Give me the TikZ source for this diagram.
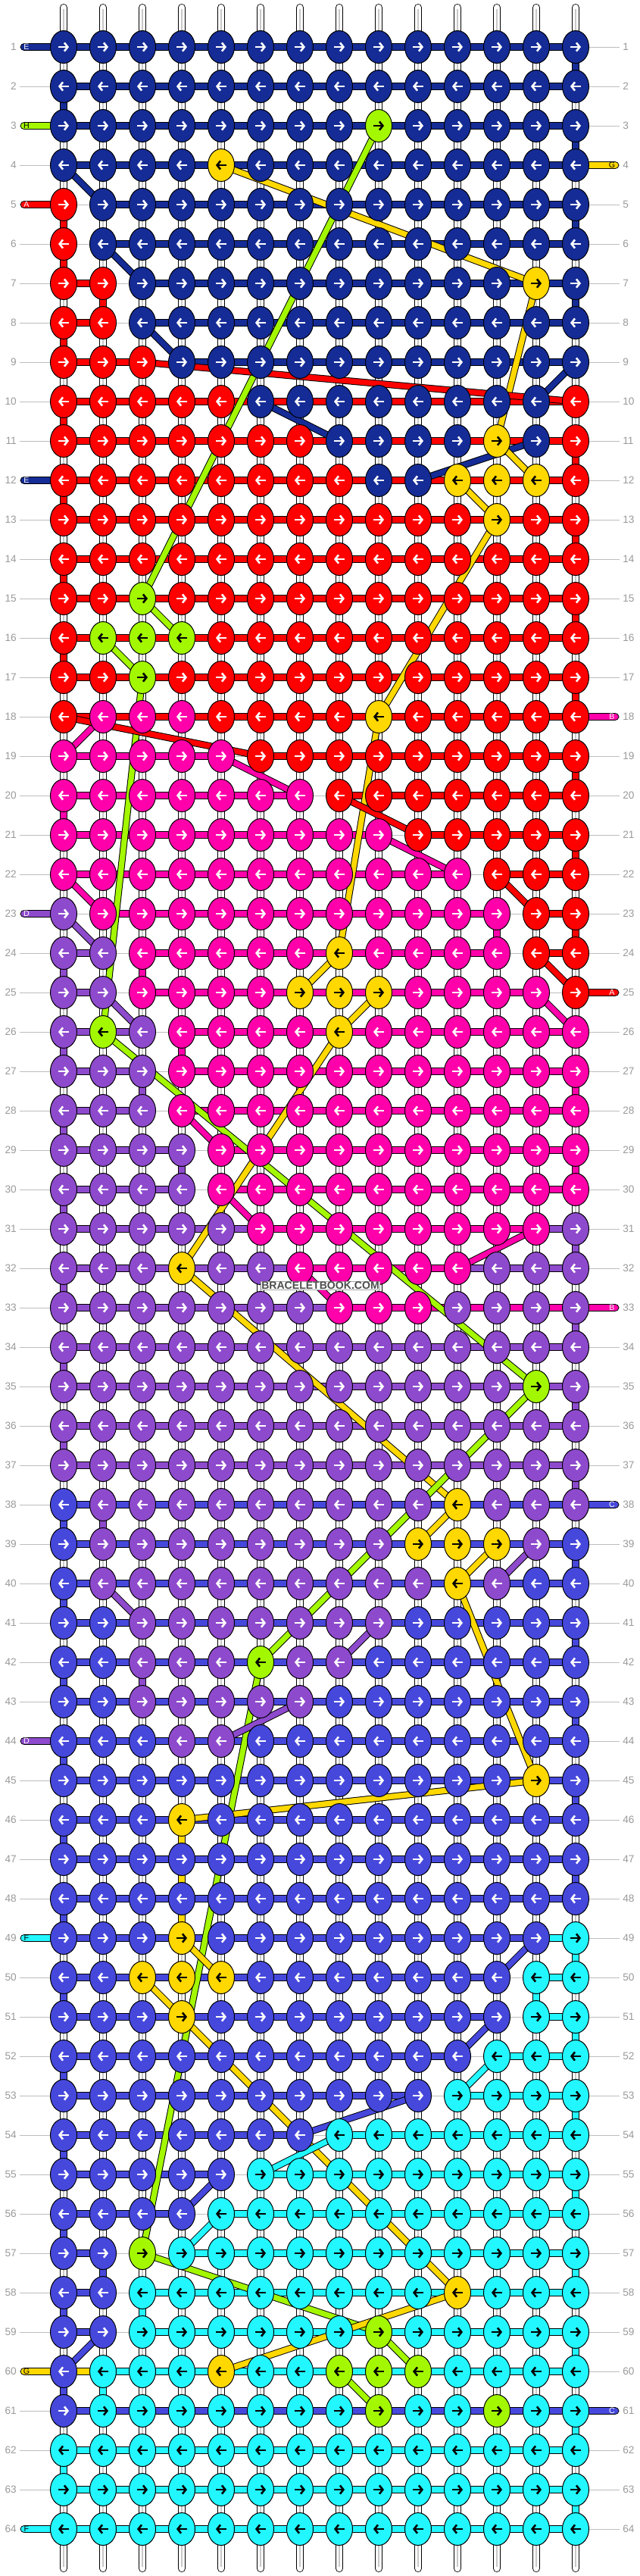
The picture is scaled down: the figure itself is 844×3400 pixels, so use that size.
\documentclass[tikz,border=0pt]{standalone}
\usepackage{fontspec}
\setsansfont{Liberation Sans}
\usetikzlibrary{shapes.geometric,arrows.meta}
\definecolor{cN}{HTML}{152C96}
\definecolor{cR}{HTML}{FF0000}
\definecolor{cY}{HTML}{FFD800}
\definecolor{cG}{HTML}{A3F700}
\definecolor{cP}{HTML}{FF00AA}
\definecolor{cV}{HTML}{8E4ACD}
\definecolor{cB}{HTML}{4648DC}
\definecolor{cC}{HTML}{22F7FF}
\colorlet{aN}{white}
\colorlet{aR}{white}
\colorlet{aP}{white}
\colorlet{aV}{white}
\colorlet{aB}{white}
\colorlet{aY}{black}
\colorlet{aG}{black}
\colorlet{aC}{black}
\definecolor{RowGray}{HTML}{BDBDBD}
\definecolor{NumGray}{HTML}{9A9A9A}
\definecolor{MidGray}{HTML}{C8C8C8}

\tikzset{
  string/.style={draw=black, line width=0.2mm, double=white, double distance=2.1mm, line cap=round},
  bar/.style={draw=black, line width=0.25mm, double=#1, double distance=2.2mm},
  linkbar/.style={draw=black, line width=0.25mm, double=#1, double distance=2mm},
  diagbar/.style={draw=black, line width=0.25mm, double=#1, double distance=1.8mm},
  knot/.style={ellipse, draw=black, line width=0.25mm, minimum width=8.75mm, minimum height=10.75mm, inner sep=0pt},
  knotarrow/.style={line width=0.65mm, -{Straight Barb[length=1.1mm,width=2.8mm]}},
  rownum/.style={font=\fontsize{9.7pt}{11pt}\selectfont\sffamily, text=NumGray, inner sep=0pt},
  stubtext/.style={font=\fontsize{7.6pt}{8pt}\selectfont\sffamily, inner sep=0pt}
}

% knot colours, one list per row
\def\knotdata{
1/{N,N,N,N,N,N,N,N,N,N,N,N,N,N},
2/{N,N,N,N,N,N,N,N,N,N,N,N,N,N},
3/{N,N,N,N,N,N,N,N,G,N,N,N,N,N},
4/{N,N,N,N,Y,N,N,N,N,N,N,N,N,N},
5/{R,N,N,N,N,N,N,N,N,N,N,N,N,N},
6/{R,N,N,N,N,N,N,N,N,N,N,N,N,N},
7/{R,R,N,N,N,N,N,N,N,N,N,N,Y,N},
8/{R,R,N,N,N,N,N,N,N,N,N,N,N,N},
9/{R,R,R,N,N,N,N,N,N,N,N,N,N,N},
10/{R,R,R,R,R,N,N,N,N,N,N,N,N,R},
11/{R,R,R,R,R,R,R,N,N,N,N,Y,N,R},
12/{R,R,R,R,R,R,R,R,N,N,Y,Y,Y,R},
13/{R,R,R,R,R,R,R,R,R,R,R,Y,R,R},
14/{R,R,R,R,R,R,R,R,R,R,R,R,R,R},
15/{R,R,G,R,R,R,R,R,R,R,R,R,R,R},
16/{R,G,G,G,R,R,R,R,R,R,R,R,R,R},
17/{R,R,G,R,R,R,R,R,R,R,R,R,R,R},
18/{R,P,P,P,R,R,R,R,Y,R,R,R,R,R},
19/{P,P,P,P,P,R,R,R,R,R,R,R,R,R},
20/{P,P,P,P,P,P,P,R,R,R,R,R,R,R},
21/{P,P,P,P,P,P,P,P,P,R,R,R,R,R},
22/{P,P,P,P,P,P,P,P,P,P,P,R,R,R},
23/{V,P,P,P,P,P,P,P,P,P,P,P,R,R},
24/{V,V,P,P,P,P,P,Y,P,P,P,P,R,R},
25/{V,V,P,P,P,P,Y,Y,Y,P,P,P,P,R},
26/{V,G,V,P,P,P,P,Y,P,P,P,P,P,P},
27/{V,V,V,P,P,P,P,P,P,P,P,P,P,P},
28/{V,V,V,P,P,P,P,P,P,P,P,P,P,P},
29/{V,V,V,V,P,P,P,P,P,P,P,P,P,P},
30/{V,V,V,V,P,P,P,P,P,P,P,P,P,P},
31/{V,V,V,V,V,P,P,P,P,P,P,P,P,V},
32/{V,V,V,Y,V,V,P,P,P,P,P,V,V,V},
33/{V,V,V,V,V,V,V,P,P,P,V,V,V,V},
34/{V,V,V,V,V,V,V,V,V,V,V,V,V,V},
35/{V,V,V,V,V,V,V,V,V,V,V,V,G,V},
36/{V,V,V,V,V,V,V,V,V,V,V,V,V,V},
37/{V,V,V,V,V,V,V,V,V,V,V,V,V,V},
38/{B,V,V,V,V,V,V,V,V,V,Y,V,V,V},
39/{B,V,V,V,V,V,V,V,V,Y,Y,Y,V,B},
40/{B,V,V,V,V,V,V,V,V,V,Y,V,B,B},
41/{B,B,V,V,V,V,V,V,V,B,B,B,B,B},
42/{B,B,V,V,V,G,V,V,B,B,B,B,B,B},
43/{B,B,V,V,V,V,V,B,B,B,B,B,B,B},
44/{B,B,B,V,V,B,B,B,B,B,B,B,B,B},
45/{B,B,B,B,B,B,B,B,B,B,B,B,Y,B},
46/{B,B,B,Y,B,B,B,B,B,B,B,B,B,B},
47/{B,B,B,B,B,B,B,B,B,B,B,B,B,B},
48/{B,B,B,B,B,B,B,B,B,B,B,B,B,B},
49/{B,B,B,Y,B,B,B,B,B,B,B,B,B,C},
50/{B,B,Y,Y,Y,B,B,B,B,B,B,B,C,C},
51/{B,B,B,Y,B,B,B,B,B,B,B,B,C,C},
52/{B,B,B,B,B,B,B,B,B,B,B,C,C,C},
53/{B,B,B,B,B,B,B,B,B,B,C,C,C,C},
54/{B,B,B,B,B,B,B,C,C,C,C,C,C,C},
55/{B,B,B,B,B,C,C,C,C,C,C,C,C,C},
56/{B,B,B,B,C,C,C,C,C,C,C,C,C,C},
57/{B,B,G,C,C,C,C,C,C,C,C,C,C,C},
58/{B,B,C,C,C,C,C,C,C,C,Y,C,C,C},
59/{B,B,C,C,C,C,C,C,G,C,C,C,C,C},
60/{B,C,C,C,Y,C,C,G,G,G,C,C,C,C},
61/{B,C,C,C,C,C,C,C,G,C,C,G,C,C},
62/{C,C,C,C,C,C,C,C,C,C,C,C,C,C},
63/{C,C,C,C,C,C,C,C,C,C,C,C,C,C},
64/{C,C,C,C,C,C,C,C,C,C,C,C,C,C}}

% rows whose running string has one colour
\def\segplain{1/N,2/N,3/N,4/N,10/R,11/R,12/R,13/R,14/R,15/R,16/R,17/R,18/R,
34/V,35/V,36/V,37/V,38/B,39/B,40/B,41/B,42/B,43/B,44/B,45/B,46/B,47/B,48/B,
61/B,62/C,63/C,64/C}

% rows with mixed running strings (0 = gap)
\def\segmixed{
5/{0,N,N,N,N,N,N,N,N,N,N,N,N},
6/{0,N,N,N,N,N,N,N,N,N,N,N,N},
7/{R,0,N,N,N,N,N,N,N,N,N,N,N},
8/{R,0,N,N,N,N,N,N,N,N,N,N,N},
9/{R,R,0,N,N,N,N,N,N,N,N,N,N},
19/{P,P,P,P,0,R,R,R,R,R,R,R,R},
20/{P,P,P,P,P,P,0,R,R,R,R,R,R},
21/{P,P,P,P,P,P,P,P,0,R,R,R,R},
22/{P,P,P,P,P,P,P,P,P,P,0,R,R},
23/{0,P,P,P,P,P,P,P,P,P,P,0,R},
24/{V,0,P,P,P,P,P,P,P,P,P,0,R},
25/{V,0,P,P,P,P,P,P,P,P,P,P,0},
26/{V,V,0,P,P,P,P,P,P,P,P,P,P},
27/{V,V,0,P,P,P,P,P,P,P,P,P,P},
28/{V,V,0,P,P,P,P,P,P,P,P,P,P},
29/{V,V,V,0,P,P,P,P,P,P,P,P,P},
30/{V,V,V,0,P,P,P,P,P,P,P,P,P},
31/{V,V,V,V,V,P,P,P,P,P,P,P,V},
32/{V,V,V,V,V,V,P,P,P,P,V,V,V},
33/{V,V,V,V,V,V,V,P,P,P,P,P,P},
49/{B,B,B,B,B,B,B,B,B,B,B,B,C},
50/{B,B,B,B,B,B,B,B,B,B,B,0,C},
51/{B,B,B,B,B,B,B,B,B,B,B,0,C},
52/{B,B,B,B,B,B,B,B,B,B,0,C,C},
53/{B,B,B,B,B,B,B,B,B,0,C,C,C},
54/{B,B,B,B,B,B,0,C,C,C,C,C,C},
55/{B,B,B,B,0,C,C,C,C,C,C,C,C},
56/{B,B,B,0,C,C,C,C,C,C,C,C,C},
57/{B,0,0,C,C,C,C,C,C,C,C,C,C},
58/{B,0,C,C,C,C,C,C,C,C,C,C,C},
59/{B,0,C,C,C,C,C,C,C,C,C,C,C},
60/{Y,C,C,C,C,C,C,C,C,C,C,C,C}}

% coloured turns between a row and the next: row/column/colour
\def\linkdata{1/14/N,2/1/N,3/14/N,5/1/R,5/14/N,6/1/R,7/2/R,7/14/N,8/1/R,
10/1/R,11/14/R,12/1/R,13/14/R,14/1/R,15/14/R,16/1/R,17/14/R,19/14/R,20/1/P,
21/14/R,23/12/P,23/14/R,24/1/V,24/3/P,26/1/V,26/4/P,27/3/V,27/14/P,28/1/V,
29/4/V,29/14/P,30/1/V,31/14/V,32/1/V,33/14/V,34/1/V,35/14/V,36/1/V,37/14/V,
38/1/B,38/2/V,39/14/B,40/1/B,41/14/B,42/1/B,42/3/V,43/14/B,44/1/B,45/14/B,
46/1/B,46/4/Y,47/4/Y,47/14/B,48/1/B,48/4/Y,49/14/C,50/1/B,50/13/C,51/14/C,
52/1/B,53/14/C,54/1/B,55/14/C,56/1/B,57/2/B,57/14/C,58/1/B,58/3/C,59/14/C,
60/1/B,60/2/C,61/14/C,62/1/C,63/14/C}

% strings carried across rows: colour/row/col/row/col
\def\diagdata{N/4/1/5/2,Y/4/5/7/13,G/3/9/15/3,N/6/2/7/3,N/8/3/9/4,
Y/7/13/11/12,R/9/3/10/14,N/9/14/10/13,N/10/6/11/8,N/11/13/12/10,
Y/11/12/12/13,Y/12/11/13/12,Y/13/12/18/9,G/15/3/16/4,G/16/2/17/3,
G/17/3/26/2,P/18/2/19/1,R/18/1/19/6,P/19/5/20/7,Y/18/9/24/8,R/20/8/21/10,
P/21/9/22/11,P/22/1/23/2,R/22/12/23/13,V/23/1/24/2,R/24/13/25/14,
Y/24/8/25/7,V/25/2/26/3,P/25/13/26/14,Y/25/9/26/8,G/26/2/35/13,
Y/26/8/32/4,P/28/4/29/5,P/30/5/31/6,P/31/13/32/11,P/32/7/33/8,
Y/32/4/38/11,G/35/13/42/6,Y/38/11/39/10,Y/39/12/40/11,V/39/13/40/12,
V/40/2/41/3,Y/40/11/45/13,V/41/9/42/8,G/42/6/57/3,V/43/7/44/5,
Y/45/13/46/4,B/49/13/50/12,Y/49/4/50/5,Y/50/3/51/4,B/51/12/52/11,
Y/51/4/58/11,C/52/12/53/11,B/53/10/54/7,C/54/8/55/6,B/55/5/56/4,
C/56/5/57/4,G/57/3/59/9,Y/58/11/60/5,G/59/9/60/10,B/59/2/60/1,G/60/8/61/9}

% loose ends with letters: row/side x/knot column/colour/letter/letter x
\def\stubdata{1/32/1/N/E/35,3/32/1/G/H/35,4/812/14/Y/G/808,5/32/1/R/A/35,
12/32/1/N/E/35,18/812/14/P/B/808,23/32/1/V/D/35,25/812/14/R/A/808,
33/812/14/P/B/808,38/812/14/B/C/808,44/32/1/V/D/35,49/32/1/C/F/35,
60/32/1/Y/G/35,61/812/14/B/C/808,64/32/1/C/F/35}

\begin{document}
\begin{tikzpicture}[x=0.25mm,y=-0.25mm]
  \useasboundingbox (0,0) rectangle (844,3400);
  \fill[white] (0,0) rectangle (844,3400);
  % grid points
  \foreach \i in {1,...,64}
    \foreach \j in {1,...,14}
      \coordinate (p-\i-\j) at ({84+52*(\j-1)},{62+52*(\i-1)});
  % row guides and numbers
  \foreach \i in {1,...,64} {
    \draw[RowGray, line width=0.25mm] ({26},{62+52*(\i-1)}) -- ({818},{62+52*(\i-1)});
    \node[rownum, anchor=east] (nl-\i) at ({22},{62+52*(\i-1)}) {\i};
    \node[rownum, anchor=west] (nr-\i) at ({822},{62+52*(\i-1)}) {\i};
  }
  % white base strings
  \foreach \j in {1,...,14} {
    \coordinate (st-\j) at ({84+52*(\j-1)},10);
    \coordinate (sb-\j) at ({84+52*(\j-1)},3390);
    \draw[string] (st-\j) -- (sb-\j);
    \draw[MidGray, line width=0.3mm] ([yshift=-0.5mm]st-\j) -- ([yshift=0.5mm]sb-\j);
  }
  % coloured turns
  \foreach \i/\j/\cl in \linkdata {
    \pgfmathtruncatemacro\inext{\i+1}
    \draw[linkbar=c\cl] (p-\i-\j) -- (p-\inext-\j);
  }
  % running strings
  \foreach \i/\s in \segplain
    \foreach \j in {1,...,13} {
      \pgfmathtruncatemacro\jn{\j+1}
      \draw[bar=c\s] (p-\i-\j) -- (p-\i-\jn);
    }
  \foreach \i/\ss in \segmixed
    \foreach \s [count=\j] in \ss {
      \pgfmathtruncatemacro\jn{\j+1}
      \if\s0\else\draw[bar=c\s] (p-\i-\j) -- (p-\i-\jn);\fi
    }
  % loose ends
  \foreach \i/\xs/\j/\cl/\lt/\xl in \stubdata {
    \coordinate (se-\i) at ({\xs},{62+52*(\i-1)});
    \draw[bar=c\cl, line cap=round] (se-\i) -- (p-\i-\j);
    \node[stubtext, text=a\cl] (sl-\i) at ({\xl},{62+52*(\i-1)}) {\lt};
  }
  % carried strings
  \foreach \cl/\ia/\ja/\ib/\jb in \diagdata
    \draw[diagbar=c\cl] (p-\ia-\ja) -- (p-\ib-\jb);
  % knots
  \foreach \i/\ks in \knotdata {
    \ifodd\i\relax \def\ax{-1.75}\def\bx{1.75}\else \def\ax{1.75}\def\bx{-1.75}\fi
    \foreach \k [count=\j] in \ks {
      \node[knot, fill=c\k] (k-\i-\j) at (p-\i-\j) {};
      \draw[knotarrow, draw=a\k] ([xshift=\ax mm]k-\i-\j.center) -- ([xshift=\bx mm]k-\i-\j.center);
    }
  }
  \node[font=\fontsize{10pt}{11pt}\selectfont\sffamily\bfseries, text=black!70, fill=white,
    draw=black!35, line width=0.2mm, inner xsep=0.6pt, inner ysep=0.4pt] (brand) at (423,1697) {BRACELETBOOK.COM};
\end{tikzpicture}
\end{document}
